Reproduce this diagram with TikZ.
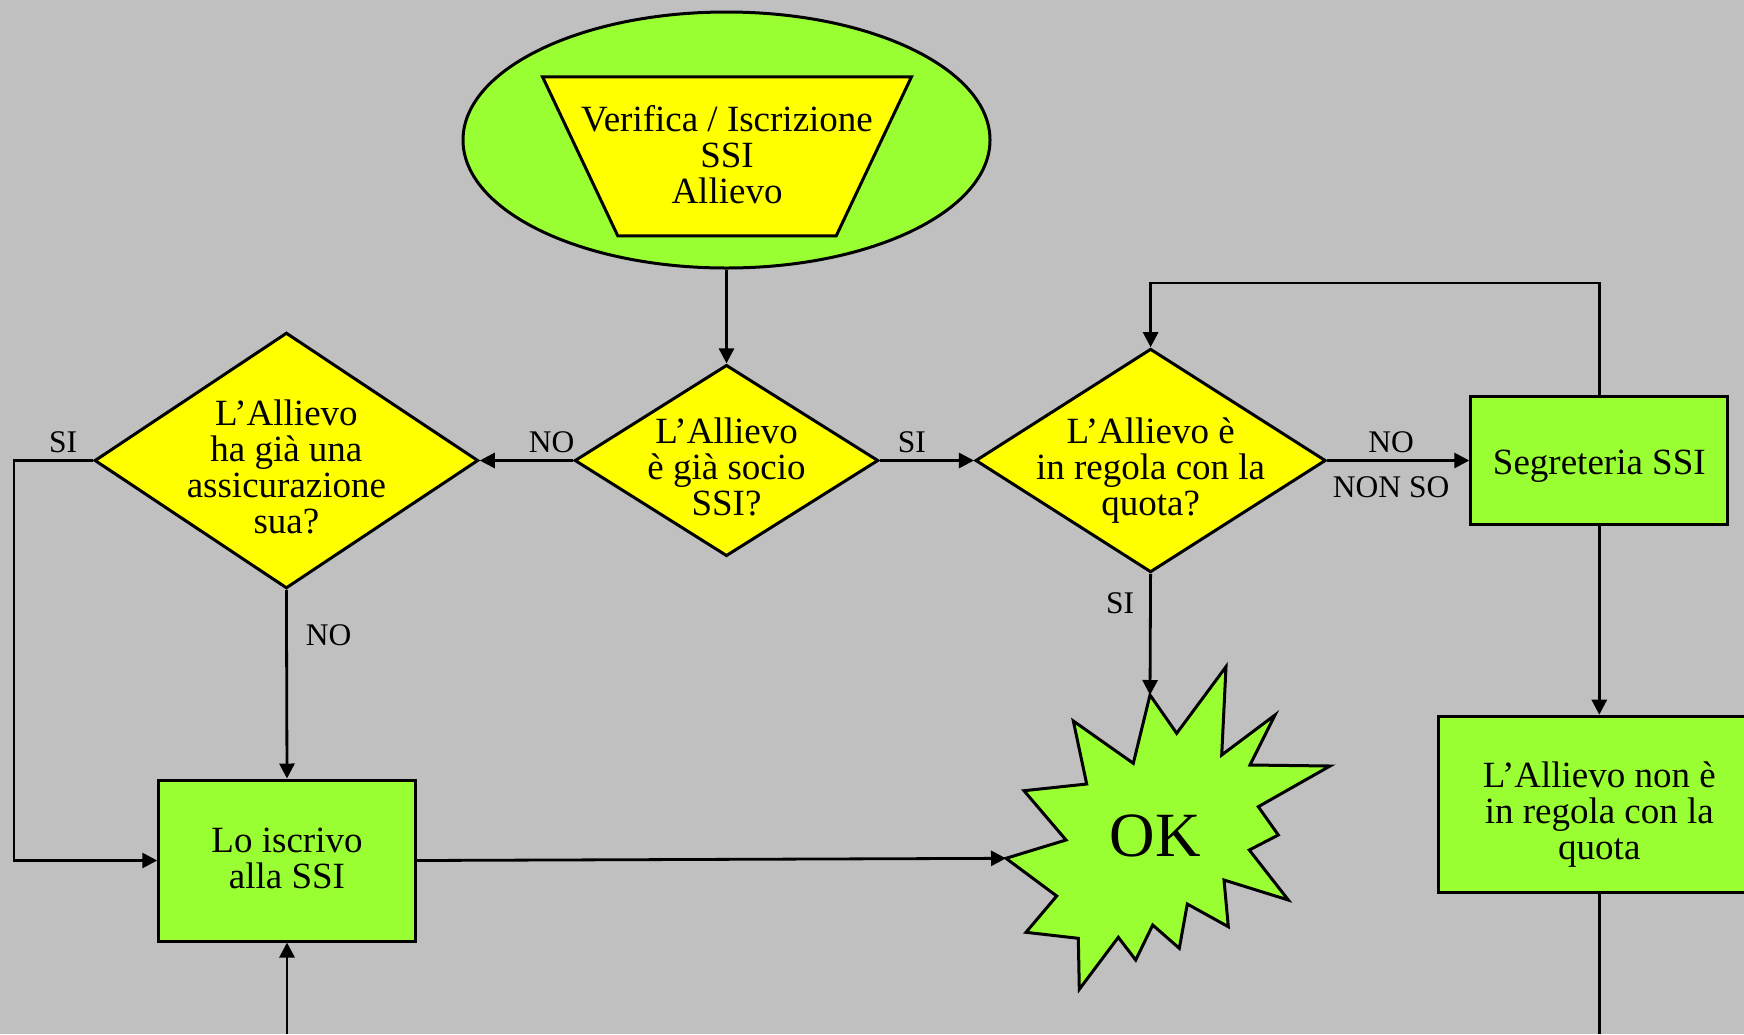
\documentclass[tikz,border=0pt]{standalone}
\usepackage{fontspec}
\setmainfont{Liberation Serif}
\usetikzlibrary{shapes.geometric,arrows.meta}
\definecolor{bggray}{HTML}{C0C0C0}
\definecolor{okgreen}{HTML}{99FF33}
\definecolor{askyellow}{HTML}{FFFF00}

\begin{document}
\begin{tikzpicture}[x=1pt, y=-1pt,
    boxtext/.style={font=\fontsize{37}{36}\selectfont, align=center},
    decision/.style={diamond, draw, line width=3pt, fill=askyellow, inner sep=0pt},
    process/.style={rectangle, draw, line width=3pt, fill=okgreen, inner sep=0pt},
    lbl/.style={font=\fontsize{31.5}{32}\selectfont, inner sep=6pt},
    flow/.style={line width=2.8pt, -{Triangle[length=15pt,width=15pt]}},
    plain/.style={line width=2.8pt}]
    \useasboundingbox (0,0) rectangle (1744,1034);
    \fill[bggray] (0,0) rectangle (1744,1034);
    \clip (0,0) rectangle (1744,1034);

    % Start
    \node[ellipse, draw, line width=3pt, fill=okgreen, inner sep=0pt,
          minimum width=527pt, minimum height=256pt] (start) at (726.5,140) {};
    \node[trapezium, trapezium stretches=true, shape border rotate=180,
          trapezium left angle=71, trapezium right angle=71,
          draw, line width=3pt, fill=askyellow, inner sep=1pt,
          minimum width=369pt, minimum height=159pt,
          label={[boxtext, yshift=2pt]center:{Verifica / Iscrizione\\SSI\\Allievo}}] (title) at (727,156.3) {};

    % Decisions
    \node[decision, minimum width=303.7pt, minimum height=191.3pt,
          label={[boxtext, yshift=-6pt]center:{L’Allievo\\è già socio\\SSI?}}] (socio) at (726.5,460.5) {};
    \node[decision, minimum width=383.7pt, minimum height=255.8pt,
          label={[boxtext, yshift=-6pt]center:{L’Allievo\\ha già una\\assicurazione\\sua?}}] (assic) at (286.4,460.5) {};
    \node[decision, minimum width=350.3pt, minimum height=223.6pt,
          label={[boxtext, yshift=-10.5pt]center:{L’Allievo è\\in regola con la\\quota?}}] (quota) at (1150.6,460.5) {};

    % Boxes
    \node[process, minimum width=257pt, minimum height=128pt,
          label={[boxtext, yshift=-6pt]center:{Segreteria SSI}}] (segr) at (1599.3,460.5) {};
    \node[process, minimum width=322pt, minimum height=176pt,
          label={[boxtext, yshift=-10pt]center:{L’Allievo non è\\in regola con la\\quota}}] (nonreg) at (1599.3,804.2) {};
    \node[process, minimum width=256.5pt, minimum height=161pt,
          label={[boxtext, yshift=2pt]center:{Lo iscrivo\\alla SSI}}] (iscr) at (287,860.5) {};

    % OK
    \coordinate (okTop) at (1150,695);
    \coordinate (okLeft) at (1006,858.3);
    \draw[line width=3pt, fill=okgreen] (okTop) -- (1176.7,733.3) -- (1226,666.7) -- (1221.7,755)
        -- (1275,715) -- (1250,765) -- (1330,766) -- (1258.3,806.7) -- (1278.3,835)
        -- (1249.3,850) -- (1288.3,900) -- (1224,880) -- (1228.3,926.7) -- (1187.3,904)
        -- (1179.3,948.3) -- (1152.7,925) -- (1135.7,960) -- (1118.3,937.3) -- (1079.3,989.3)
        -- (1078.3,938.3) -- (1026,932.3) -- (1056.7,896) -- (okLeft) -- (1066,840)
        -- (1024,790.7) -- (1086.7,784) -- (1073.3,721) -- (1133.3,763.3) -- cycle;
    \node[font=\fontsize{63}{63}\selectfont] (ok) at (1155,836) {OK};

    % Connectors
    \coordinate (fromBelow) at (287,1034);
    \coordinate (toBelow) at (1599.3,1034);
    \draw[flow] (start.south) -- (socio.north);
    \draw[flow] (socio.west) -- node[lbl, above, pos=.23] {NO} (assic.east);
    \draw[flow] (socio.east) -- node[lbl, above, pos=.34] {SI} (quota.west);
    \draw[flow] (quota.east) -- node[lbl, above, pos=.45] {NO}
        node[lbl, below, pos=.45, yshift=-9pt] {NON SO} (segr.west);
    \draw[flow] (quota.south) -- node[lbl, left, pos=.24, xshift=-9pt] {SI} (okTop);
    \draw[flow] (segr.north) -- ++(0,-112) -| (quota.north);
    \draw[flow] (segr.south) -- (nonreg.north);
    \draw[plain] (nonreg.south) -- (toBelow);
    \draw[flow] (assic.west) -- node[lbl, above, pos=.38] {SI} ++(-79,0) |- (iscr.west);
    \draw[flow] (assic.south) -- node[lbl, right, pos=.24, xshift=12pt] {NO} (iscr.north);
    \draw[flow] (iscr.east) -- (okLeft);
    \draw[flow] (fromBelow) -- (iscr.south);

\end{tikzpicture}
\end{document}
